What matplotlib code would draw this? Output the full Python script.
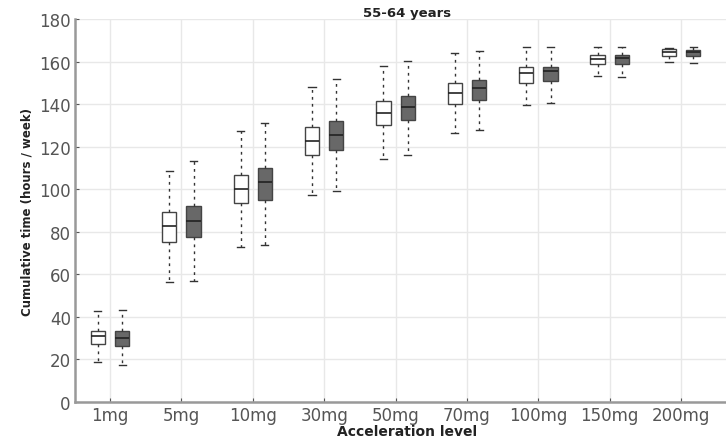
import matplotlib
matplotlib.use("Agg")
import matplotlib.pyplot as plt
import numpy as np

categories = ["1mg", "5mg", "10mg", "30mg", "50mg", "70mg", "100mg", "150mg", "200mg"]

# [whisker_low, q1, median, q3, whisker_high]
white_stats = [
    [19.0, 27.3, 30.8, 33.5, 42.6],
    [56.2, 75.3, 82.6, 89.3, 108.4],
    [72.8, 93.5, 100.1, 106.7, 127.5],
    [97.3, 116.2, 122.8, 129.4, 147.9],
    [114.2, 130.2, 135.8, 141.6, 158.0],
    [126.3, 140.0, 145.1, 149.8, 164.0],
    [139.6, 149.9, 154.6, 157.3, 166.7],
    [153.0, 158.8, 161.2, 163.1, 166.7],
    [159.6, 162.7, 164.6, 165.9, 166.6],
]
gray_stats = [
    [17.4, 26.5, 30.0, 33.2, 43.4],
    [56.7, 77.4, 85.0, 92.0, 113.1],
    [73.9, 94.9, 103.2, 109.8, 131.1],
    [99.0, 118.4, 125.6, 131.9, 151.8],
    [116.1, 132.7, 138.5, 143.9, 160.4],
    [127.8, 141.9, 147.4, 151.3, 164.8],
    [140.5, 151.0, 155.7, 157.6, 166.7],
    [152.6, 158.8, 161.5, 163.1, 166.7],
    [159.2, 162.7, 164.3, 165.4, 166.7],
]

def to_bxp(stats):
    out = []
    for lo, q1, med, q3, hi in stats:
        out.append(dict(whislo=lo, q1=q1, med=med, q3=q3, whishi=hi, fliers=[]))
    return out

fig = plt.figure(figsize=(7.26, 4.39), dpi=100)
left_px, right_px, top_px, bottom_px = 75, 739, 20, 403
W, H = 726, 439
ax = fig.add_axes([left_px / W, 1 - bottom_px / H, (right_px - left_px) / W, (bottom_px - top_px) / H])

x = np.arange(len(categories))
off = 0.17
bw = 0.2

common = dict(widths=bw, patch_artist=True, showfliers=False, manage_ticks=False,
              whiskerprops=dict(color="#333333", linestyle=(0, (2, 3)), linewidth=1.0),
              capprops=dict(color="#333333", linewidth=1.0),
              medianprops=dict(color="#222222", linewidth=1.2))
ax.bxp(to_bxp(white_stats), positions=x - off,
       boxprops=dict(facecolor="white", edgecolor="#444444", linewidth=1.0), **common)
ax.bxp(to_bxp(gray_stats), positions=x + off,
       boxprops=dict(facecolor="#686868", edgecolor="#444444", linewidth=1.0), **common)

ax.set_xlim(-0.49, 8.81)
ax.set_ylim(0, 180)
ax.set_yticks(np.arange(0, 181, 20))
ax.set_xticks(x)
ax.set_xticklabels(categories)
ax.grid(True, color="#e8e8e8", linewidth=1.0)
ax.set_axisbelow(True)
for s in ["top", "right"]:
    ax.spines[s].set_visible(False)
for s in ["left", "bottom"]:
    ax.spines[s].set_color("#999999")
    ax.spines[s].set_linewidth(1.8)
ax.tick_params(axis="both", labelsize=12, colors="#555555", length=3, direction="in")
ax.tick_params(axis="x", pad=3)
ax.tick_params(axis="y", pad=3)
ax.set_title("55-64 years", fontsize=9.5, fontweight="bold", color="#222222", pad=1)
ax.set_xlabel("Acceleration level", fontsize=10, fontweight="bold", color="#222222", labelpad=0)
ax.set_ylabel("Cumulative time (hours / week)", fontsize=8.5, fontweight="bold", color="#222222", labelpad=4)

fig.savefig("out.png", dpi=100)
